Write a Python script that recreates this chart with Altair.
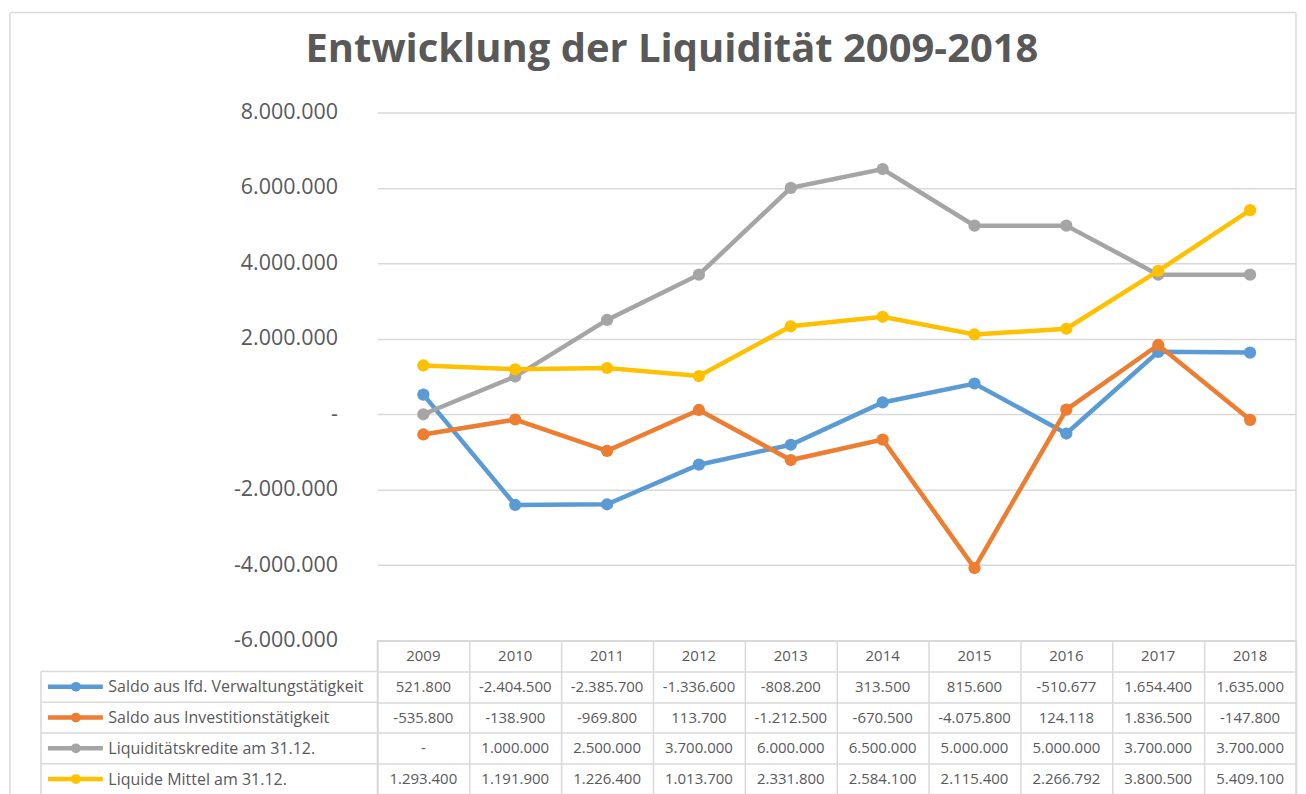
import altair as alt
import pandas as pd

# ---------------- data ----------------
years = ["2009", "2010", "2011", "2012", "2013", "2014", "2015", "2016", "2017", "2018"]
series_names = [
    "Saldo aus lfd. Verwaltungstätigkeit",
    "Saldo aus Investitionstätigkeit",
    "Liquiditätskredite am 31.12.",
    "Liquide Mittel am 31.12.",
]
series_colors = ["#5B9BD5", "#ED7D31", "#A5A5A5", "#FFC000"]
verwaltung = [521800, -2404500, -2385700, -1336600, -808200, 313500, 815600, -510677, 1654400, 1635000]
investition = [-535800, -138900, -969800, 113700, -1212500, -670500, -4075800, 124118, 1836500, -147800]
kredite = [0, 1000000, 2500000, 3700000, 6000000, 6500000, 5000000, 5000000, 3700000, 3700000]
liquide = [1293400, 1191900, 1226400, 1013700, 2331800, 2584100, 2115400, 2266792, 3800500, 5409100]
y_ticks = [-6000000, -4000000, -2000000, 0, 2000000, 4000000, 6000000, 8000000]
title_text = "Entwicklung der Liquidität 2009-2018"
HDR = "Jahr"

values = [verwaltung, investition, kredite, liquide]


def de(v):
    return "-" if v == 0 else f"{v:,}".replace(",", ".")


long = pd.DataFrame(
    [{"Jahr": y, "Reihe": s, "Wert": v}
     for s, vals in zip(series_names, values) for y, v in zip(years, vals)]
)
rows = [HDR] + series_names
table = pd.DataFrame(
    [{"Jahr": y, "Zeile": HDR, "Text": y} for y in years]
    + [{"Jahr": y, "Zeile": s, "Text": de(v)}
       for s, vals in zip(series_names, values) for y, v in zip(years, vals)]
)
series_df = pd.DataFrame({"Zeile": series_names, "Reihe": series_names})
one = pd.DataFrame({"k": [0]})

# ---------------- style ----------------
W, H, TH = 920, 529, 154
FONT = "Open Sans"
TXT = "#595959"
GRID = "#d9d9d9"
GW = 1.5

color_scale = alt.Scale(domain=series_names, range=series_colors)
color_enc = alt.Color("Reihe:N", scale=color_scale, legend=None)

# ---------------- top: line chart ----------------
x_top = alt.X("Jahr:O", sort=years, scale=alt.Scale(type="point", padding=0.5), axis=None)
y_top = alt.Y(
    "Wert:Q",
    scale=alt.Scale(domain=[-6000000, 8000000], nice=False),
    axis=alt.Axis(
        values=y_ticks,
        labelExpr="datum.value == 0 ? '-' : replace(replace(format(datum.value, ','), regexp(',', 'g'), '.'), '\u2212', '-')",
        title=None, domain=False, ticks=False, labelPadding=40,
        labelFontSize=21.5, labelColor=TXT, labelFont=FONT,
        gridColor=GRID, gridWidth=GW,
    ),
)

layers = []
for s in series_names:
    base = alt.Chart(long).transform_filter(alt.datum.Reihe == s)
    layers.append(base.mark_line(strokeWidth=4.5).encode(x=x_top, y=y_top, color=color_enc))
    layers.append(base.mark_circle(size=150, opacity=1).encode(x=x_top, y=y_top, color=color_enc))

border_left = alt.Chart(one).mark_rule(color=GRID, strokeWidth=GW).encode(
    x=alt.value(-368), y=alt.value(-100), y2=alt.value(H))
border_top = alt.Chart(one).mark_rule(color=GRID, strokeWidth=GW).encode(
    x=alt.value(-368), x2=alt.value(W), y=alt.value(-100))
border_right = alt.Chart(one).mark_rule(color=GRID, strokeWidth=GW).encode(
    x=alt.value(W), y=alt.value(-100), y2=alt.value(H))
title = alt.Chart(one).mark_text(
    text=title_text, font=FONT, fontSize=40, fontWeight="bold", color=TXT,
    align="center", baseline="alphabetic").encode(x=alt.value(295), y=alt.value(-51))

top = alt.layer(border_left, border_top, border_right, title, *layers).properties(
    width=W, height=H, view=alt.ViewBackground(stroke="transparent"))

# ---------------- bottom: data table ----------------
x_scale_tab = alt.Scale(type="band", paddingInner=0, paddingOuter=0)
y_scale_tab = alt.Scale(type="band", domain=rows, paddingInner=0, paddingOuter=0)
x_tab = alt.X("Jahr:O", sort=years, bandPosition=0.5, scale=x_scale_tab, axis=alt.Axis(
    orient="top", grid=True, tickBand="extent", labels=False, ticks=False, domain=False,
    title=None, gridColor=GRID, gridWidth=GW))
y_tab = alt.Y("Zeile:N", bandPosition=0.5, scale=y_scale_tab, axis=alt.Axis(
    grid=True, tickBand="extent", ticks=False, tickSize=0, domain=False, title=None,
    labelAlign="left", labelPadding=270, labelFontSize=16, labelFont=FONT, labelColor=TXT,
    labelLimit=400,
    labelExpr=f"datum.value == '{HDR}' ? '' : datum.value",
    gridColor=GRID, gridWidth=GW))

cells = alt.Chart(table).mark_text(font=FONT, fontSize=15, color=TXT).encode(
    x=x_tab, y=y_tab, text="Text:N")
row_lines = alt.Chart(series_df).mark_rule(color=GRID, strokeWidth=GW).encode(
    x=alt.value(-337), x2=alt.value(0),
    y=alt.Y("Zeile:N", bandPosition=0, scale=y_scale_tab))
col_left = alt.Chart(one).mark_rule(color=GRID, strokeWidth=GW).encode(
    x=alt.value(-337), y=alt.value(TH / 5), y2=alt.value(TH))
outer_left = alt.Chart(one).mark_rule(color=GRID, strokeWidth=GW).encode(
    x=alt.value(-368), y=alt.value(0), y2=alt.value(TH))
sym_line = alt.Chart(series_df).mark_rule(strokeWidth=4.5).encode(
    x=alt.value(-330), x2=alt.value(-275),
    y=alt.Y("Zeile:N", bandPosition=0.5, scale=y_scale_tab), color=color_enc)
sym_dot = alt.Chart(series_df).mark_circle(size=95, opacity=1).encode(
    x=alt.value(-302),
    y=alt.Y("Zeile:N", bandPosition=0.5, scale=y_scale_tab), color=color_enc)

tab = alt.layer(cells, row_lines, col_left, outer_left, sym_line, sym_dot).properties(
    width=W, height=TH, view=alt.ViewBackground(stroke=GRID, strokeWidth=GW))

chart = alt.vconcat(top, tab, spacing=0, bounds="flush").properties(
    padding={"left": 0, "top": 2, "right": 0, "bottom": 0}
).configure(font=FONT)

chart.save("out.html", embed_options={"renderer": "svg", "actions": False})
